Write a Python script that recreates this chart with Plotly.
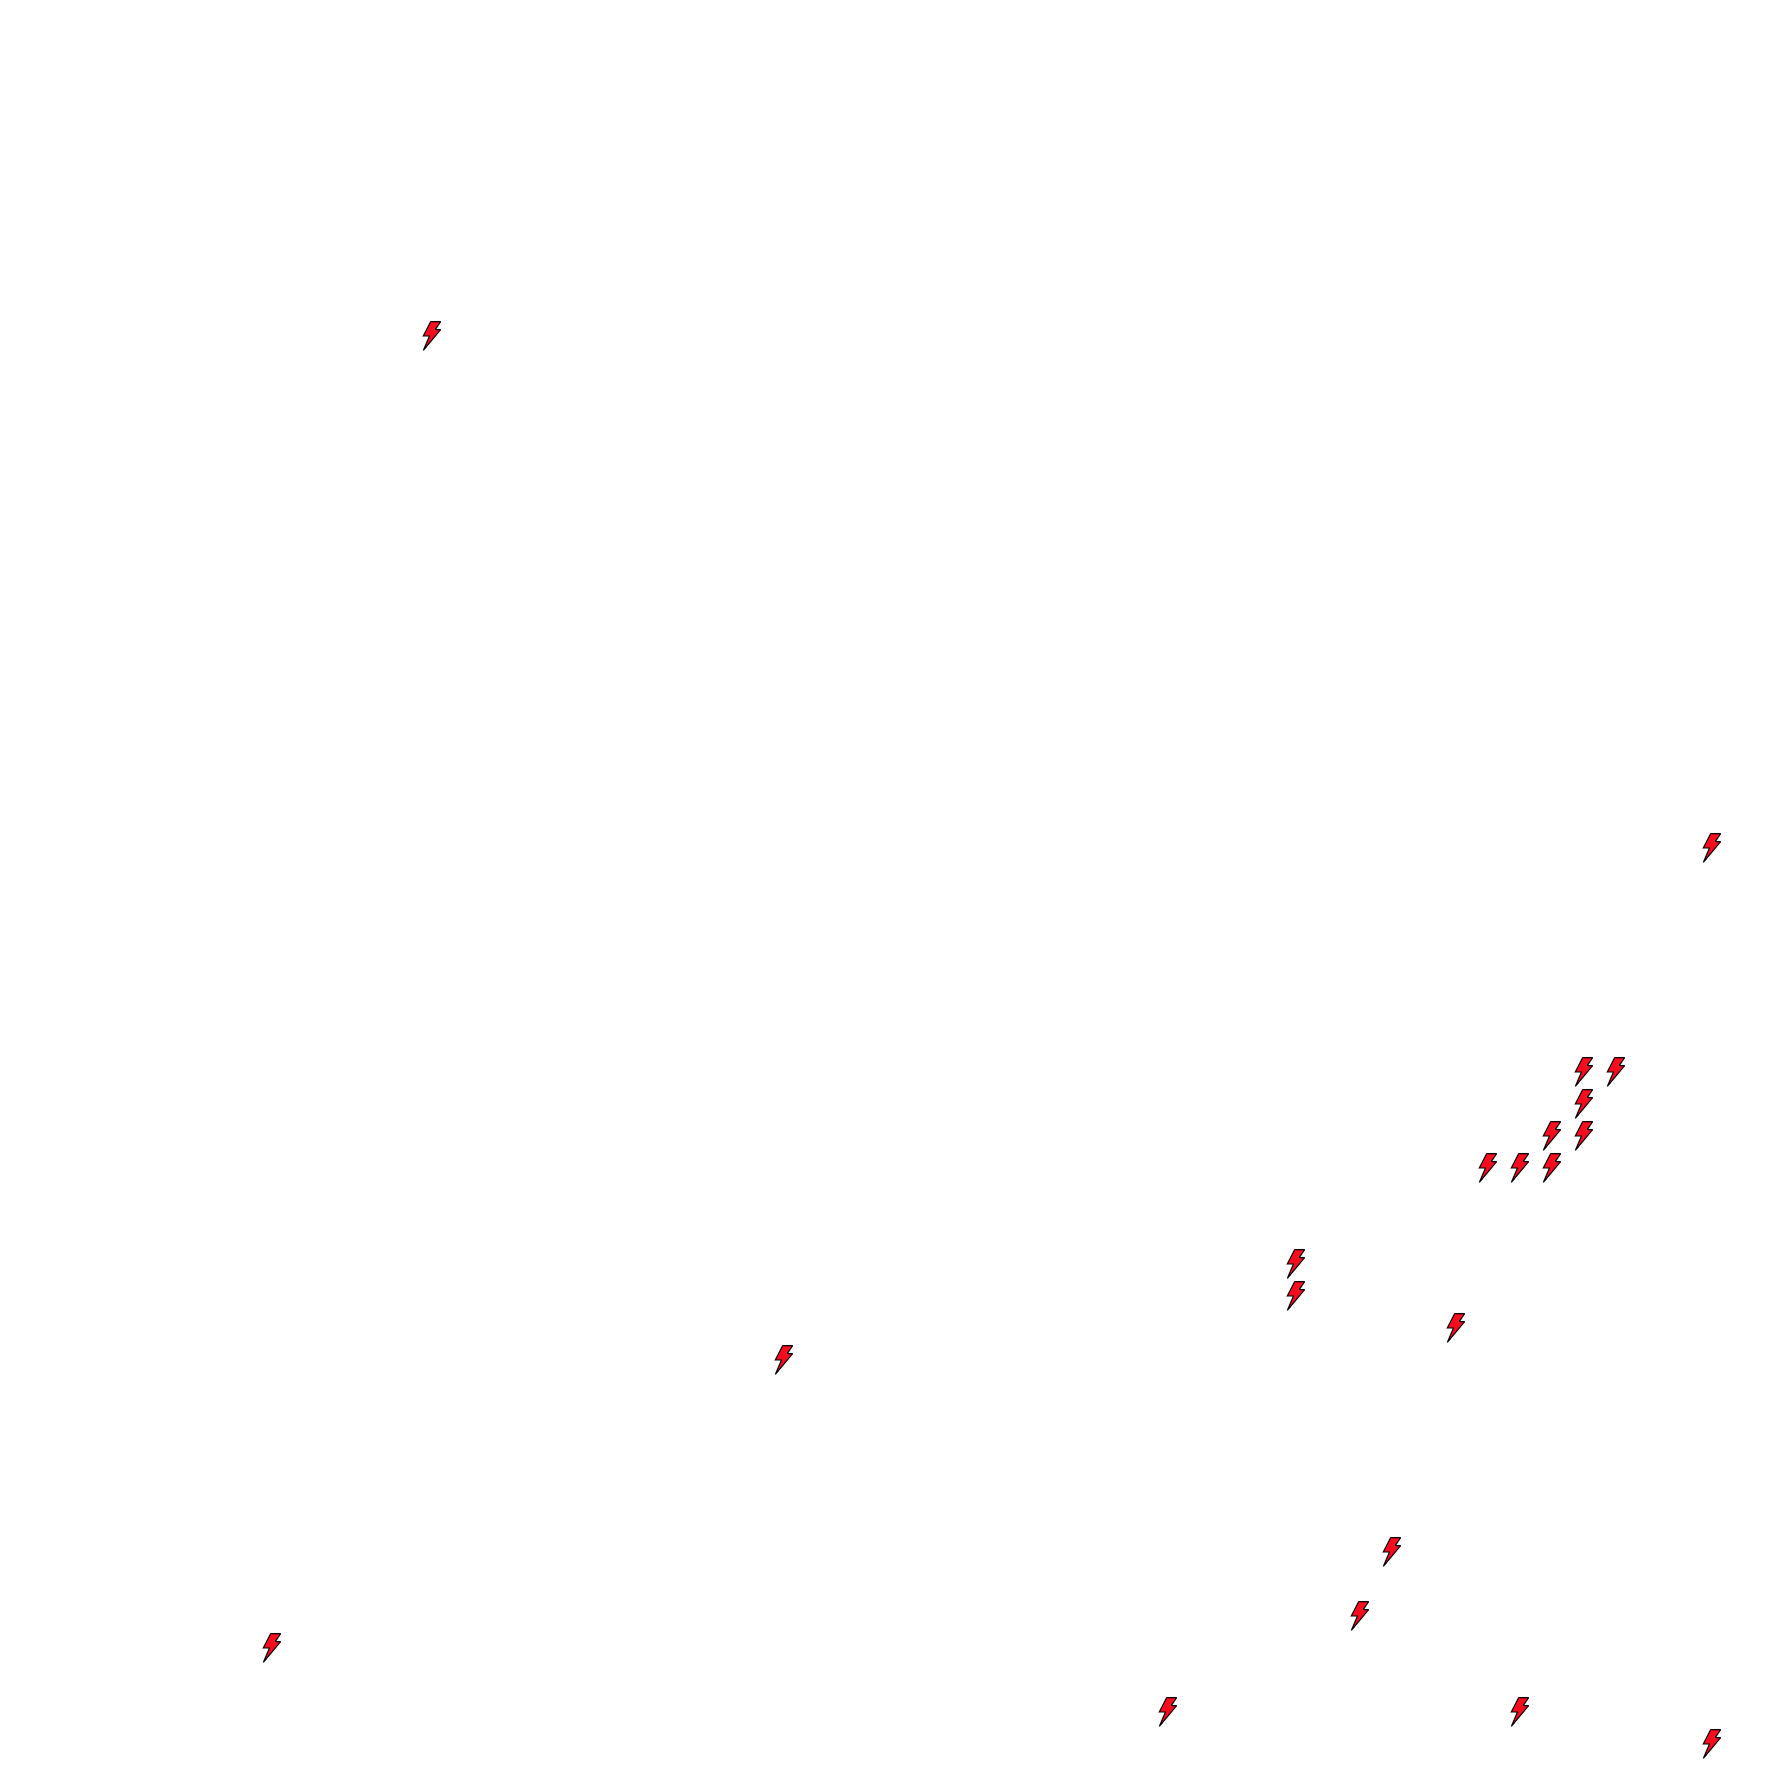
import plotly.graph_objects as go

# grid cell of each bolt (column, row) on a 56 x 56 grid
columns = [13, 53, 49, 50, 49, 48, 49, 46, 47, 48, 40, 40, 45, 24, 43, 42, 8, 36, 47, 53]
rows = [10, 26, 33, 33, 34, 35, 35, 36, 36, 36, 39, 40, 41, 42, 48, 50, 51, 53, 53, 54]

grid_size = 56
# lightning-bolt glyph outline, in cell units
glyph_x = [0.46, 0.77, 0.60, 0.77, 0.23, 0.42, 0.23, 0.46]
glyph_y = [0.05, 0.05, 0.30, 0.30, 0.95, 0.50, 0.50, 0.05]

xs, ys = [], []
for c, r in zip(columns, rows):
    xs += [c + g for g in glyph_x] + [None]
    ys += [r + g for g in glyph_y] + [None]

fig = go.Figure(go.Scatter(
    x=xs, y=ys, mode="lines", fill="toself",
    fillcolor="#ff0a1e", line=dict(color="#000000", width=1.2),
    hoverinfo="skip", showlegend=False,
))
fig.update_layout(
    width=1792, height=1792, autosize=False,
    margin=dict(l=0, r=0, t=0, b=0),
    paper_bgcolor="white", plot_bgcolor="white",
    xaxis=dict(range=[0, grid_size], visible=False, fixedrange=True),
    yaxis=dict(range=[grid_size, 0], visible=False, fixedrange=True),
)
fig.write_html(
    "out.html",
    config={"displayModeBar": False},
    post_script="document.body.style.margin='0';document.documentElement.style.overflow='hidden';",
)
